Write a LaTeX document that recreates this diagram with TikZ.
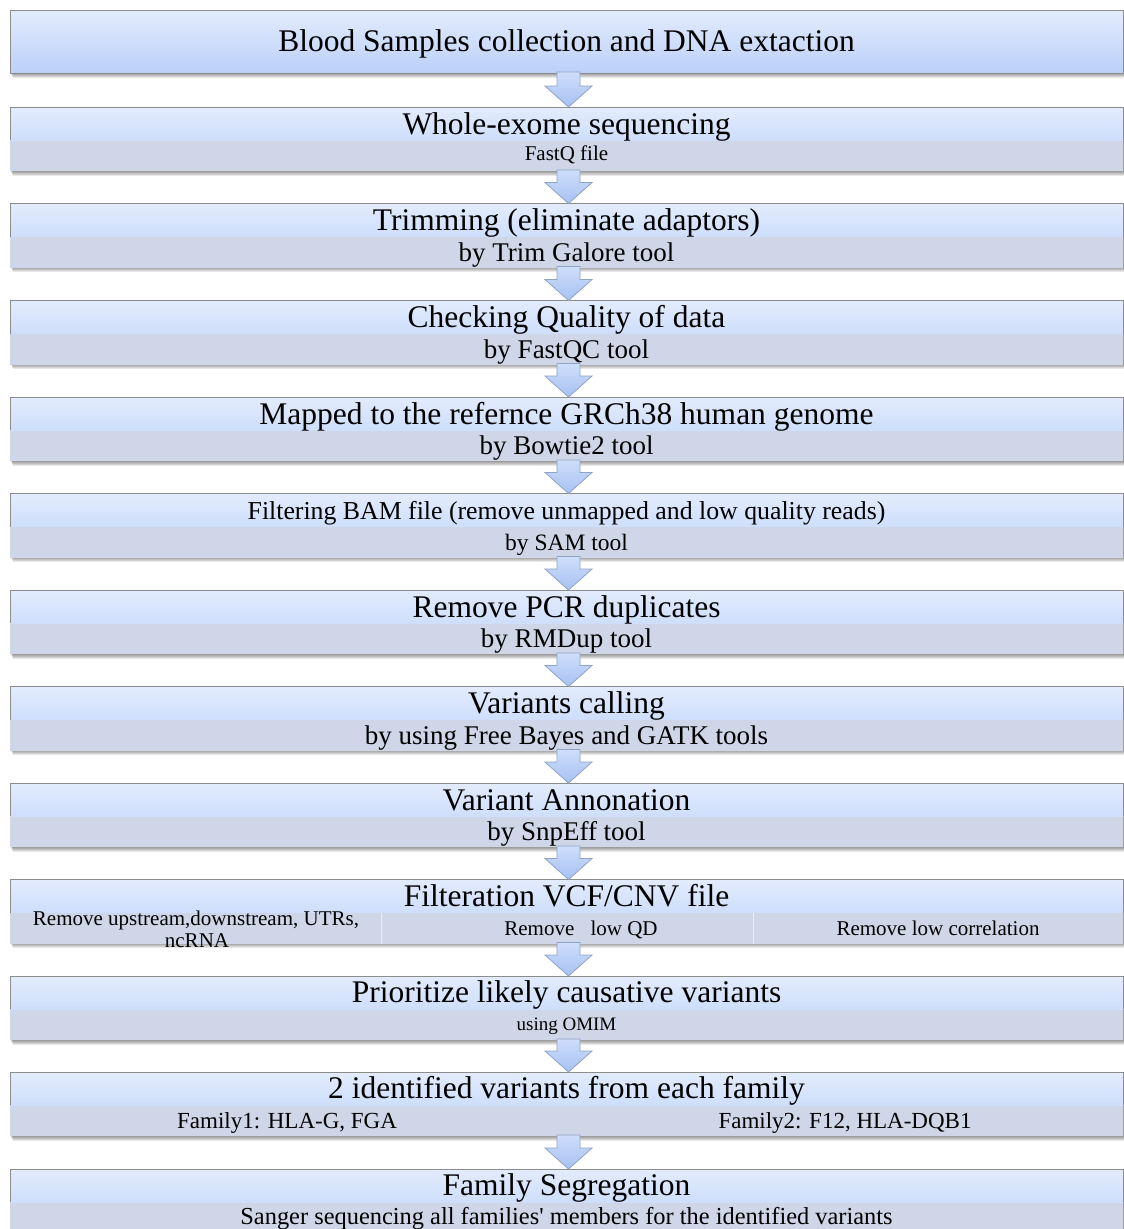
\documentclass[tikz,border=0pt]{standalone}
\usepackage{fontspec}
\setmainfont{Liberation Serif}
\usetikzlibrary{calc}
\definecolor{lt}{HTML}{E3ECFD}
\definecolor{lb}{HTML}{CEDEFB}
\definecolor{lbone}{HTML}{BBD0F8}
\definecolor{band}{HTML}{CED6E7}
\definecolor{bd}{HTML}{8C8C8C}
\definecolor{at}{HTML}{CFDEFA}
\definecolor{ab}{HTML}{A6C1F3}
\definecolor{abd}{HTML}{8FA3C5}
\tikzset{
 boxnode/.style={rectangle, minimum width=1113pt, minimum height=64pt, inner sep=0pt, outer sep=0pt},
 title/.style={anchor=base, inner sep=0pt, font=\fontsize{31.5}{36}\selectfont},
 subtext/.style={anchor=base, inner sep=0pt, font=\fontsize{27}{30}\selectfont},
 smalltext/.style={anchor=base, inner sep=0pt, font=\fontsize{21}{24}\selectfont},
 tinytext/.style={anchor=base, inner sep=0pt, font=\fontsize{19}{21}\selectfont},
}
\newcommand\boxshadow[1]{%
  \foreach \k in {1,...,5}{\fill[black, opacity=0.09] ($(#1.north west)+(\k*0.4+0.5,8)$) rectangle ($(#1.south east)+(\k*0.4+0.5,\k*0.9)$);}}
\newcommand\twopart[1]{%
  \boxshadow{#1}
  \fill[band] ($(#1.north west)+(0,33)$) rectangle (#1.south east);
  \shade[top color=lt, bottom color=lb] (#1.north west) rectangle ($(#1.north east)+(0,33)$);
  \draw[bd, line width=0.8pt] ($(#1.north west)+(0,33)$) -- (#1.north west) -- (#1.north east) -- ($(#1.north east)+(0,33)$);
}
\newcommand\blockarrow[2]{%
  \shadedraw[top color=at, bottom color=ab, draw=abd, line width=0.8pt, line join=miter]
   let \p1=(#1.south), \p2=(#2.north) in
   (\x1-9.5pt,\y1+1pt) -- (\x1+13.5pt,\y1+1pt) -- (\x1+13.5pt,\y2+21pt) -- (\x1+25.5pt,\y2+21pt) -- (\x1+2pt,\y2) -- (\x1-21.5pt,\y2+21pt) -- (\x1-9.5pt,\y2+21pt) -- cycle;}
\begin{document}
\begin{tikzpicture}[x=1pt,y=-1pt]
\useasboundingbox (0,0) rectangle (1124,1229);
\fill[white] (0,0) rectangle (1124,1229);
% box nodes
\node[boxnode, minimum height=63pt] (b1) at (566.5,41.5) {};
\node[boxnode] (b2) at (566.5,139) {};
\node[boxnode] (b3) at (566.5,235.5) {};
\node[boxnode] (b4) at (566.5,332.5) {};
\node[boxnode] (b5) at (566.5,429) {};
\node[boxnode] (b6) at (566.5,525.5) {};
\node[boxnode] (b7) at (566.5,622) {};
\node[boxnode] (b8) at (566.5,718.5) {};
\node[boxnode] (b9) at (566.5,815) {};
\node[boxnode] (b10) at (566.5,911.5) {};
\node[boxnode] (b11) at (566.5,1008) {};
\node[boxnode] (b12) at (566.5,1104) {};
\node[boxnode] (b13) at (566.5,1201) {};
% box 1
\boxshadow{b1}
\shade[top color=lt, bottom color=lbone] (b1.north west) rectangle (b1.south east);
\draw[bd, line width=0.8pt] (b1.north west) rectangle (b1.south east);
% other boxes
\twopart{b2}\twopart{b3}\twopart{b4}\twopart{b5}\twopart{b6}\twopart{b7}
\twopart{b8}\twopart{b9}\twopart{b10}\twopart{b11}\twopart{b12}\twopart{b13}
% faint cell dividers in box 10
\draw[white!55!band, line width=0.8pt] ($(b10.north west)+(371,33)$) -- ($(b10.south west)+(371,0)$);
\draw[white!55!band, line width=0.8pt] ($(b10.north west)+(743,33)$) -- ($(b10.south west)+(743,0)$);
% arrows
\blockarrow{b1}{b2}\blockarrow{b2}{b3}\blockarrow{b3}{b4}\blockarrow{b4}{b5}
\blockarrow{b5}{b6}\blockarrow{b6}{b7}\blockarrow{b7}{b8}\blockarrow{b8}{b9}
\blockarrow{b9}{b10}\blockarrow{b10}{b11}\blockarrow{b11}{b12}\blockarrow{b12}{b13}
% texts
\node[title] (t1) at ($(b1.north)+(0,41.7)$) {Blood Samples collection and DNA extaction};
\node[title] (t2) at ($(b2.north)+(0,27)$) {Whole-exome sequencing};
\node[smalltext] (s2) at ($(b2.north)+(0,53)$) {FastQ file};
\node[title] (t3) at ($(b3.north)+(0,27)$) {Trimming (eliminate adaptors)};
\node[subtext] (s3) at ($(b3.north)+(0,57.5)$) {by Trim Galore tool};
\node[title] (t4) at ($(b4.north)+(0,27)$) {Checking Quality of data};
\node[subtext] (s4) at ($(b4.north)+(0,57.5)$) {by FastQC tool};
\node[title] (t5) at ($(b5.north)+(0,27)$) {Mapped to the refernce GRCh38 human genome};
\node[subtext] (s5) at ($(b5.north)+(0,57.5)$) {by Bowtie2 tool};
\node[title, font=\fontsize{25.8}{30}\selectfont] (t6) at ($(b6.north)+(0,26)$) {Filtering BAM file (remove unmapped and low quality reads)};
\node[subtext, font=\fontsize{23.5}{26}\selectfont] (s6) at ($(b6.north)+(0,56.5)$) {by SAM tool};
\node[title] (t7) at ($(b7.north)+(0,27)$) {Remove PCR duplicates};
\node[subtext] (s7) at ($(b7.north)+(0,57.5)$) {by RMDup tool};
\node[title] (t8) at ($(b8.north)+(0,27)$) {Variants calling};
\node[subtext] (s8) at ($(b8.north)+(0,57.5)$) {by using Free Bayes and GATK tools};
\node[title] (t9) at ($(b9.north)+(0,27)$) {Variant Annonation};
\node[subtext] (s9) at ($(b9.north)+(0,57.5)$) {by SnpEff tool};
\node[title] (t10) at ($(b10.north)+(0,26.5)$) {Filteration VCF/CNV file};
\node[smalltext] (s10a) at ($(b10.north west)+(186,45.5)$) {Remove upstream,downstream, UTRs,};
\node[smalltext] (s10b) at ($(b10.north west)+(187,67.5)$) {ncRNA};
\node[smalltext] (s10c) at ($(b10.north west)+(571,55.5)$) {Remove\hspace{11pt} low QD};
\node[smalltext] (s10d) at ($(b10.north west)+(928,55.5)$) {Remove low correlation};
\node[title] (t11) at ($(b11.north)+(0,26.5)$) {Prioritize likely causative variants};
\node[tinytext] (s11) at ($(b11.north)+(0,54.5)$) {using OMIM};
\node[title] (t12) at ($(b12.north)+(0,26.5)$) {2 identified variants from each family};
\node[subtext, font=\fontsize{23}{26}\selectfont] (s12a) at ($(b12.north west)+(277,56)$) {Family1: HLA-G, FGA};
\node[subtext, font=\fontsize{23}{26}\selectfont] (s12b) at ($(b12.north west)+(835,56)$) {Family2: F12, HLA-DQB1};
\node[title] (t13) at ($(b13.north)+(0,26.5)$) {Family Segregation};
\node[subtext, font=\fontsize{24.4}{27}\selectfont] (s13) at ($(b13.north)+(0,55)$) {Sanger sequencing all families\textquotesingle\ members for the identified variants};
\end{tikzpicture}
\end{document}
